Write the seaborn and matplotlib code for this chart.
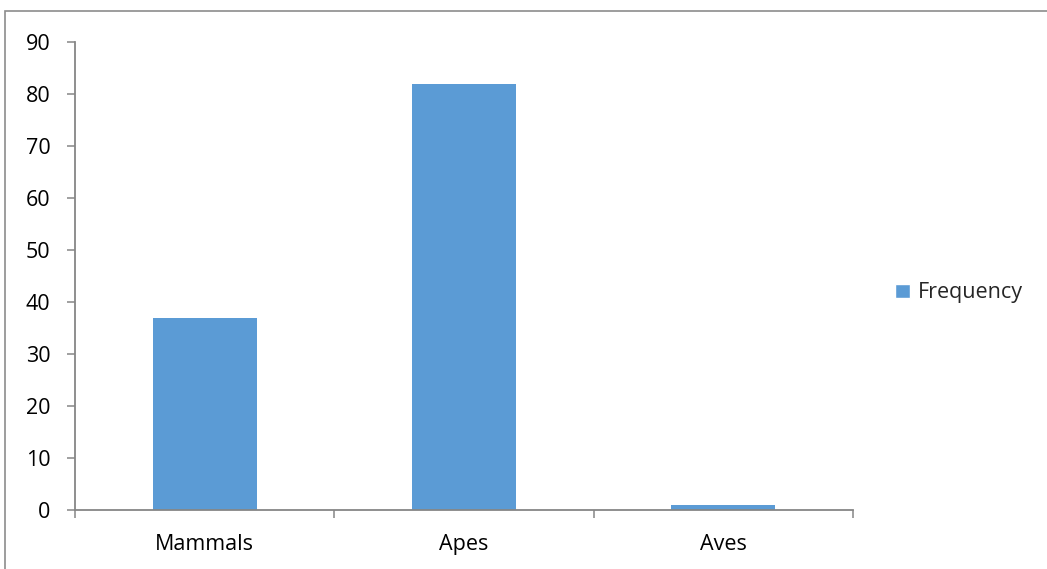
import numpy as np
import pandas as pd
import seaborn as sns
import matplotlib.pyplot as plt
from matplotlib.patches import Rectangle, Patch

# Chart data
categories = ["Mammals", "Apes", "Aves"]
frequency = [37, 82, 1]
y_ticks = [0, 10, 20, 30, 40, 50, 60, 70, 80, 90]

df = pd.DataFrame({"category": categories, "Frequency": frequency})

sns.set_style("white")
plt.rcParams["font.family"] = ["Open Sans", "DejaVu Sans"]

W, H = 1047, 569
fig = plt.figure(figsize=(W / 100, H / 100), dpi=100)
ax = fig.add_axes([75 / W, 1 - 510 / H, (853 - 75) / W, (510 - 42) / H])

bar_color = "#5B9BD5"
sns.barplot(data=df, x="category", y="Frequency", color=bar_color,
            width=0.4, saturation=1, linewidth=0, ax=ax)

ax.set_ylim(0, 90)
ax.set_xlim(-0.5, 2.5)
ax.set_yticks(y_ticks)
ax.set_xlabel("")
ax.set_ylabel("")

axis_color = "#868686"
for side in ["top", "right"]:
    ax.spines[side].set_visible(False)
for side in ["left", "bottom"]:
    ax.spines[side].set_color(axis_color)
    ax.spines[side].set_linewidth(1.3)

fs = 15.5
ax.tick_params(axis="y", length=5.8, width=1.1, color=axis_color,
               labelsize=fs, pad=12, labelcolor="black", left=True)
ax.tick_params(axis="x", which="major", length=0, labelsize=fs, pad=17,
               labelcolor="black")
ax.set_xticks(np.arange(-0.5, 3.0, 1.0), minor=True)
ax.tick_params(axis="x", which="minor", length=5.8, width=1.1, color=axis_color,
               bottom=True)

# legend on the right
fig.legend(handles=[Patch(facecolor=bar_color, label="Frequency")],
           loc="center left", bbox_to_anchor=(876 / W, 1 - 293 / H),
           frameon=False, fontsize=fs, handlelength=0.68, handleheight=0.68,
           handletextpad=0.35)

# outer chart border (cut off at right and bottom in the reference)
fig.patches.append(Rectangle((5 / W, -0.05), 1.1, 1 - 11 / H + 0.05,
                             transform=fig.transFigure, fill=False,
                             edgecolor="#8c8c8c", linewidth=1.2))

fig.savefig("out.png", dpi=100)
